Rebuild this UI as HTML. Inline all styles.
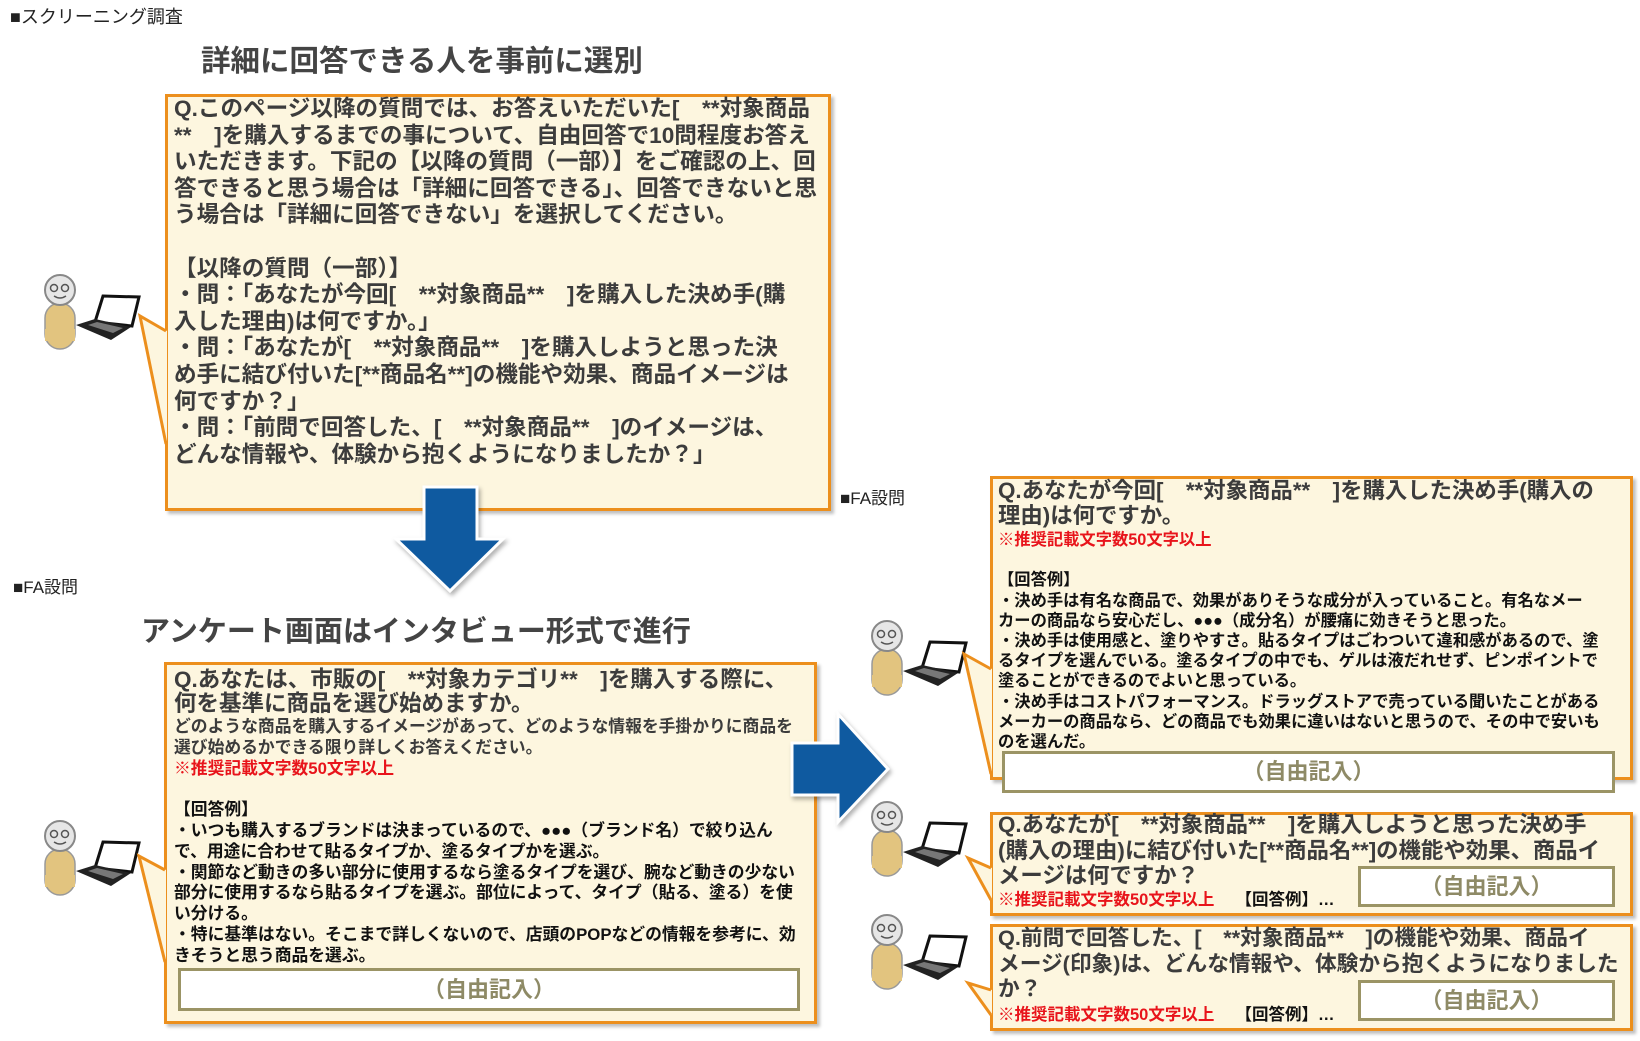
<!DOCTYPE html>
<html><head><meta charset="utf-8">
<style>
body{margin:0;width:1640px;height:1041px;background:#fff;position:relative;overflow:hidden;font-family:"Liberation Sans","Noto Sans CJK JP",sans-serif;}
.a{position:absolute;white-space:nowrap;}
.box{position:absolute;background:#fdf6df;border:3px solid #ec8f1d;box-sizing:border-box;box-shadow:3px 3px 3px rgba(0,0,0,0.25);}
.free{position:absolute;background:#fff;border:3px solid #9b9465;box-sizing:border-box;text-align:center;color:#8e8a66;font-weight:bold;font-size:22px;}
.t{position:absolute;white-space:nowrap;font-weight:bold;color:#3c3c3c;}
.t div{height:var(--lh);line-height:var(--lh);}
.red{color:#e8141b;}
.blk{color:#111;}
</style></head><body>

<div class="a" style="left:10px;top:3px;font-size:18px;color:#222;">■スクリーニング調査</div>
<div class="a" style="left:201px;top:38px;font-size:29.5px;font-weight:bold;color:#444;">詳細に回答できる人を事前に選別</div>
<div class="a" style="left:13px;top:573px;font-size:17px;color:#222;">■FA設問</div>
<div class="a" style="left:141px;top:608px;font-size:29px;font-weight:bold;color:#444;">アンケート画面はインタビュー形式で進行</div>
<div class="a" style="left:840px;top:484px;font-size:17px;color:#222;">■FA設問</div>

<!-- top box -->
<div class="box" style="left:165px;top:94px;width:666px;height:417px;"></div>
<div class="t" style="--lh:26.6px;left:174px;top:96px;font-size:22.6px;">
<div>Q.このページ以降の質問では、お答えいただいた[　**対象商品</div>
<div>**　]を購入するまでの事について、自由回答で10問程度お答え</div>
<div>いただきます。下記の【以降の質問（一部）】をご確認の上、回</div>
<div>答できると思う場合は「詳細に回答できる」、回答できないと思</div>
<div>う場合は「詳細に回答できない」を選択してください。</div>
<div></div>
<div>【以降の質問（一部）】</div>
<div>・問：「あなたが今回[　**対象商品**　]を購入した決め手(購</div>
<div>入した理由)は何ですか。」</div>
<div>・問：「あなたが[　**対象商品**　]を購入しようと思った決</div>
<div>め手に結び付いた[**商品名**]の機能や効果、商品イメージは</div>
<div>何ですか？」</div>
<div>・問：「前問で回答した、[　**対象商品**　]のイメージは、</div>
<div>どんな情報や、体験から抱くようになりましたか？」</div>
</div>

<!-- box 2 -->
<div class="box" style="left:164px;top:662px;width:653px;height:362px;"></div>
<div class="t" style="--lh:24px;left:174px;top:668px;font-size:22.5px;">
<div>Q.あなたは、市販の[　**対象カテゴリ**　]を購入する際に、</div>
<div>何を基準に商品を選び始めますか。</div>
</div>
<div class="t" style="--lh:20.8px;left:174px;top:717px;font-size:16.8px;">
<div>どのような商品を購入するイメージがあって、どのような情報を手掛かりに商品を</div>
<div>選び始めるかできる限り詳しくお答えください。</div>
<div class="red">※推奨記載文字数50文字以上</div>
<div></div>
<div class="blk">【回答例】</div>
<div class="blk">・いつも購入するブランドは決まっているので、●●●（ブランド名）で絞り込ん</div>
<div class="blk">で、用途に合わせて貼るタイプか、塗るタイプかを選ぶ。</div>
<div class="blk">・関節など動きの多い部分に使用するなら塗るタイプを選び、腕など動きの少ない</div>
<div class="blk">部分に使用するなら貼るタイプを選ぶ。部位によって、タイプ（貼る、塗る）を使</div>
<div class="blk">い分ける。</div>
<div class="blk">・特に基準はない。そこまで詳しくないので、店頭のPOPなどの情報を参考に、効</div>
<div class="blk">きそうと思う商品を選ぶ。</div>
</div>
<div class="free" style="left:178px;top:968px;width:622px;height:43px;line-height:37px;">（自由記入）</div>

<!-- R1 -->
<div class="box" style="left:990px;top:476px;width:643px;height:304px;"></div>
<div class="t" style="--lh:25px;left:998px;top:478px;font-size:22.4px;">
<div>Q.あなたが今回[　**対象商品**　]を購入した決め手(購入の</div>
<div>理由)は何ですか。</div>
</div>
<div class="t" style="--lh:20.2px;left:998px;top:530px;font-size:16.3px;">
<div class="red">※推奨記載文字数50文字以上</div>
<div></div>
<div class="blk">【回答例】</div>
<div class="blk">・決め手は有名な商品で、効果がありそうな成分が入っていること。有名なメー</div>
<div class="blk">カーの商品なら安心だし、●●●（成分名）が腰痛に効きそうと思った。</div>
<div class="blk">・決め手は使用感と、塗りやすさ。貼るタイプはごわついて違和感があるので、塗</div>
<div class="blk">るタイプを選んでいる。塗るタイプの中でも、ゲルは液だれせず、ピンポイントで</div>
<div class="blk">塗ることができるのでよいと思っている。</div>
<div class="blk">・決め手はコストパフォーマンス。ドラッグストアで売っている聞いたことがある</div>
<div class="blk">メーカーの商品なら、どの商品でも効果に違いはないと思うので、その中で安いも</div>
<div class="blk">のを選んだ。</div>
</div>
<div class="free" style="left:1002px;top:751px;width:613px;height:42px;line-height:36px;">（自由記入）</div>

<!-- R2 -->
<div class="box" style="left:990px;top:812px;width:643px;height:104px;"></div>
<div class="t" style="--lh:25.5px;left:998px;top:812px;font-size:22.4px;">
<div>Q.あなたが[　**対象商品**　]を購入しようと思った決め手</div>
<div>(購入の理由)に結び付いた[**商品名**]の機能や効果、商品イ</div>
<div>メージは何ですか？</div>
</div>
<div class="t" style="left:998px;top:890px;font-size:16.5px;line-height:20px;"><span class="red">※推奨記載文字数50文字以上</span>　 <span class="blk">【回答例】…</span></div>
<div class="free" style="left:1358px;top:866px;width:257px;height:41px;line-height:35px;">（自由記入）</div>

<!-- R3 -->
<div class="box" style="left:990px;top:924px;width:643px;height:107px;"></div>
<div class="t" style="--lh:25.5px;left:998px;top:925px;font-size:21.7px;">
<div>Q.前問で回答した、[　**対象商品**　]の機能や効果、商品イ</div>
<div>メージ(印象)は、どんな情報や、体験から抱くようになりました</div>
<div>か？</div>
</div>
<div class="t" style="left:998px;top:1005px;font-size:16.5px;line-height:20px;"><span class="red">※推奨記載文字数50文字以上</span>　 <span class="blk">【回答例】…</span></div>
<div class="free" style="left:1358px;top:980px;width:257px;height:41px;line-height:35px;">（自由記入）</div>

<svg width="1640" height="1041" style="position:absolute;left:0;top:0;" xmlns="http://www.w3.org/2000/svg">
<defs>
<g id="p">
<rect x="2" y="30" width="30" height="46" rx="15" fill="#e2c47f" stroke="#999" stroke-width="1.5"/>
<rect x="2" y="56" width="30" height="12" fill="#e2c47f"/>
<circle cx="17" cy="17" r="15" fill="#e6e6e6" stroke="#888" stroke-width="2"/>
<circle cx="11" cy="15" r="3.5" fill="none" stroke="#555" stroke-width="1.5"/>
<circle cx="22" cy="15" r="3.5" fill="none" stroke="#555" stroke-width="1.5"/>
<path d="M11 23 Q17 27 23 23" fill="none" stroke="#555" stroke-width="1.5"/>
<polygon points="60,23 96,24 89,53 52,49" fill="#fff" stroke="#111" stroke-width="3"/>
<polygon points="33,52 52,46 88,54 68,67" fill="#222"/>
<polygon points="45,52 54,49 80,55 70,60" fill="#777"/>
</g>
</defs>
<use href="#p" x="43" y="273"/>
<use href="#p" x="43" y="819"/>
<use href="#p" x="870" y="619"/>
<use href="#p" x="870" y="800"/>
<use href="#p" x="870" y="913"/>

<polygon points="167,331 140,316 167,444" fill="#fdf6df"/>
<polyline points="166,331 140,316 166,444" fill="none" stroke="#ec8f1d" stroke-width="3"/>
<polygon points="166,870 139,856 166,962" fill="#fdf6df"/>
<polyline points="165,870 139,856 165,962" fill="none" stroke="#ec8f1d" stroke-width="3"/>
<polygon points="992,669 964,654 992,774" fill="#fdf6df"/>
<polyline points="991,669 964,654 991,774" fill="none" stroke="#ec8f1d" stroke-width="3"/>
<polygon points="992,868 968,858 992,900" fill="#fdf6df"/>
<polyline points="991,868 968,858 991,900" fill="none" stroke="#ec8f1d" stroke-width="3"/>
<polygon points="992,990 968,983 992,1015" fill="#fdf6df"/>
<polyline points="991,990 968,983 991,1015" fill="none" stroke="#ec8f1d" stroke-width="3"/>

<polygon points="424,487 477,487 477,539 503,539 450,591 396,539 424,539" fill="#0f5aa0" stroke="#fff" stroke-width="3" style="filter:drop-shadow(2px 3px 2px rgba(0,0,0,0.3))"/>
<polygon points="792,743 838,743 838,714 888,769 838,822 838,795 792,795" fill="#0f5aa0" stroke="#fff" stroke-width="3" style="filter:drop-shadow(2px 3px 2px rgba(0,0,0,0.3))"/>
</svg>
</body></html>
